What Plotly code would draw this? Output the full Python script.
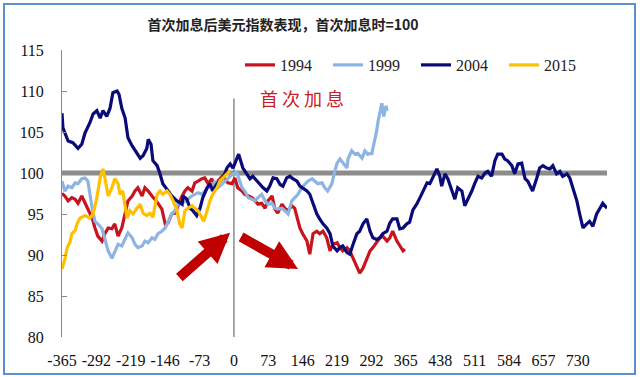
import plotly.graph_objects as go

# ---------------- data ----------------
x_ticks = [-365, -292, -219, -146, -73, 0, 73, 146, 219, 292, 365, 438, 511, 584, 657, 730]

days_1994 = [-365, -359, -352, -344, -337, -331, -323, -316, -310, -301, -295, -289, -280, -274, -267, -259,
             -253, -246, -238, -231, -225, -216, -210, -204, -195, -189, -182, -174, -168, -161, -153, -146,
             -140, -132, -125, -119, -110, -104, -98, -89, -83, -76, -68, -62, -55, -47, -40, -34, -25, -19,
             -13, -4, 2, 8, 17, 23, 30, 38, 45, 51, 59, 66, 72, 81, 87, 93, 102, 108, 115, 123, 129, 134,
             140, 146, 155, 161, 168, 176, 182, 189, 197, 204, 210, 219, 225, 231, 240, 246, 253, 261, 267,
             274, 282, 289, 295, 303, 310, 316, 325, 331, 337, 346, 352, 359, 363]
vals_1994 = [97.5, 97.2, 96.6, 97.0, 96.8, 96.3, 97.2, 96.3, 95.6, 94.5, 93.3, 92.3, 91.7, 92.6, 93.3, 93.2,
             93.8, 92.3, 93.3, 95.1, 96.6, 97.2, 97.8, 98.2, 97.2, 98.2, 97.8, 97.2, 96.8, 96.3, 95.6, 93.8,
             93.9, 95.0, 95.1, 96.0, 97.2, 97.8, 98.2, 97.8, 98.8, 99.0, 99.3, 99.4, 98.7, 99.3, 98.2, 99.0,
             99.6, 99.3, 98.8, 98.7, 99.4, 98.2, 97.8, 97.4, 97.2, 97.0, 96.6, 96.2, 96.3, 95.7, 96.6, 97.2,
             95.6, 95.1, 96.2, 95.7, 95.4, 96.0, 95.7, 94.5, 93.3, 92.6, 91.7, 90.1, 92.6, 92.9, 92.6, 92.9,
             92.1, 90.5, 91.3, 91.5, 90.9, 90.5, 90.9, 90.5, 89.6, 88.4, 87.8, 88.4, 89.6, 90.5, 90.9, 91.5,
             92.1, 92.3, 91.7, 92.1, 92.9, 91.7, 91.1, 90.5, 90.7]

days_1999 = [-365, -359, -352, -344, -337, -331, -323, -316, -310, -306, -301, -295, -289, -280, -274, -267,
             -259, -253, -246, -238, -231, -225, -216, -210, -204, -195, -189, -182, -174, -168, -161, -153,
             -146, -140, -132, -125, -119, -110, -104, -98, -89, -83, -76, -68, -62, -55, -47, -40, -34, -25,
             -19, -13, -4, 6, 17, 23, 30, 38, 45, 51, 59, 66, 72, 81, 87, 93, 102, 108, 115, 123, 129, 136,
             144, 151, 157, 166, 172, 178, 187, 193, 199, 208, 214, 219, 225, 231, 240, 242, 250, 257, 263,
             272, 278, 284, 293, 295, 299, 303, 306, 310, 314, 318, 323, 325]
vals_1999 = [99.0, 97.8, 98.4, 98.2, 98.8, 98.7, 99.3, 99.4, 99.0, 97.4, 95.7, 94.1, 93.8, 93.2, 92.1, 90.5,
             89.6, 90.5, 91.3, 91.1, 92.1, 92.7, 92.1, 91.3, 90.9, 91.1, 91.7, 91.5, 92.1, 91.9, 92.6, 92.9,
             93.3, 94.1, 95.0, 95.4, 96.2, 96.3, 96.6, 96.8, 97.2, 97.4, 97.6, 97.4, 97.8, 98.2, 98.4, 99.0,
             98.2, 98.7, 99.0, 99.4, 99.8, 100.1, 98.2, 97.8, 97.0, 96.8, 96.6, 97.0, 97.4, 96.6, 96.2, 96.3,
             95.7, 95.6, 95.7, 95.4, 95.0, 96.6, 97.0, 97.4, 98.2, 98.7, 99.0, 99.3, 99.0, 98.7, 98.8, 98.2,
             97.8, 98.7, 100.2, 101.2, 101.7, 101.2, 100.6, 101.7, 102.7, 102.3, 102.4, 101.8, 102.7, 102.3,
             102.4, 103.0, 103.9, 105.1, 106.3, 107.6, 108.5, 106.9, 108.2, 107.6]

days_2004 = [-365, -363, -352, -342, -331, -323, -316, -306, -299, -291, -284, -278, -270, -263, -257, -248,
             -244, -238, -231, -225, -216, -206, -199, -193, -185, -182, -176, -172, -163, -157, -151, -142,
             -132, -121, -110, -108, -100, -93, -87, -79, -72, -66, -57, -51, -45, -36, -30, -23, -15, -8,
             -2, 6, 10, 19, 28, 34, 40, 49, 55, 62, 70, 76, 83, 91, 98, 104, 112, 119, 125, 134, 140, 146,
             155, 161, 168, 176, 182, 189, 197, 204, 210, 219, 225, 231, 240, 246, 253, 261, 267, 274, 282,
             289, 295, 303, 310, 316, 325, 331, 337, 346, 352, 359, 367, 373, 380, 388, 395, 401, 410, 416,
             422, 431, 437, 441, 448, 454, 463, 469, 475, 484, 490, 497, 505, 511, 518, 526, 533, 539, 547,
             554, 560, 569, 575, 581, 590, 596, 603, 611, 618, 624, 634, 643, 649, 656, 664, 671, 677, 685,
             692, 698, 707, 713, 719, 728, 734, 741, 749, 755, 762, 770, 777, 783, 792]
vals_2004 = [107.3, 105.5, 103.9, 103.7, 103.0, 103.5, 104.9, 106.1, 107.2, 107.6, 106.7, 107.6, 106.9, 107.9,
             109.8, 110.0, 109.6, 107.9, 106.7, 104.3, 103.3, 102.4, 101.8, 102.1, 103.0, 104.1, 103.5, 101.5,
             100.9, 99.9, 98.7, 98.0, 97.2, 96.6, 96.2, 97.2, 96.8, 95.7, 95.4, 94.8, 95.7, 97.0, 98.2, 98.7,
             97.8, 98.7, 99.0, 99.4, 100.6, 101.1, 100.6, 101.8, 102.3, 100.6, 99.9, 99.3, 99.6, 99.0, 98.6,
             98.2, 97.8, 98.4, 99.4, 99.3, 98.6, 98.4, 99.4, 99.6, 99.3, 99.0, 98.4, 98.2, 97.8, 97.4, 96.2,
             95.0, 94.4, 93.8, 93.3, 92.6, 91.1, 90.5, 90.9, 91.1, 90.3, 90.1, 91.3, 92.6, 92.9, 93.8, 94.4,
             92.9, 92.1, 91.9, 92.1, 92.6, 92.9, 93.9, 94.4, 94.4, 93.2, 93.3, 93.8, 94.0, 95.5, 96.2, 97.0,
             97.8, 98.8, 98.7, 99.4, 100.5, 99.6, 98.4, 99.9, 99.3, 97.8, 96.8, 98.2, 97.8, 96.0, 96.8, 97.8,
             98.7, 99.6, 99.4, 100.0, 100.2, 99.6, 101.5, 102.3, 102.3, 101.7, 101.5, 100.9, 99.9, 101.1,
             101.2, 99.3, 99.0, 97.8, 99.4, 100.6, 100.9, 100.6, 100.5, 100.9, 99.9, 100.2, 99.6, 99.9, 99.4,
             98.2, 96.6, 95.0, 93.3, 93.8, 94.1, 93.5, 95.0, 95.7, 96.3, 95.7]

days_2015 = [-365, -359, -354, -348, -344, -337, -333, -327, -316, -306, -299, -291, -284, -278, -274, -270,
             -267, -259, -253, -246, -242, -236, -231, -227, -221, -214, -206, -199, -193, -185, -178, -172,
             -163, -157, -151, -142, -136, -129, -121, -115, -110, -104, -98, -89, -83, -76, -68, -64, -57,
             -51, -45, -36, -30, -23, -15, -8]
vals_2015 = [88.3, 89.5, 90.9, 91.6, 92.6, 93.0, 93.8, 94.5, 94.8, 94.5, 95.0, 97.0, 99.4, 100.5, 99.4, 98.2,
             97.2, 98.2, 99.3, 98.7, 97.4, 97.8, 96.2, 94.5, 95.4, 95.0, 95.7, 96.2, 95.1, 94.8, 95.1, 94.6,
             97.4, 97.8, 97.4, 97.8, 97.4, 96.6, 95.4, 93.8, 93.3, 95.4, 95.7, 96.0, 95.7, 95.4, 94.5, 94.1,
             95.4, 96.6, 97.4, 98.2, 99.0, 99.4, 99.9, 100.3]

series = [
    ("1994", days_1994, vals_1994, "#c8141e"),
    ("1999", days_1999, vals_1999, "#8db4e2"),
    ("2004", days_2004, vals_2004, "#0a0a78"),
    ("2015", days_2015, vals_2015, "#ffc000"),
]

# ---------------- layout constants ----------------
W, H = 640, 377
ML, MR, MT, MB = 62, 33, 50, 40
X_RANGE = [-365, 792]
Y_RANGE = [80, 115]
SERIF = "Liberation Serif, Times New Roman, serif"
CJK = "Noto Sans CJK SC, sans-serif"

fig = go.Figure()
for name, xs, ys, col in series:
    fig.add_trace(go.Scatter(x=xs, y=ys, mode="lines", name=name,
                             line=dict(color=col, width=3.2)))

pw, ph = W - ML - MR, H - MT - MB
fig.update_layout(
    width=W, height=H,
    margin=dict(l=ML, r=MR, t=MT, b=MB, autoexpand=False),
    paper_bgcolor="white", plot_bgcolor="white",
    title=dict(text="<b>首次加息后美元指数表现，首次加息时=100</b>",
               font=dict(family=CJK, size=14, color="#222"),
               x=283 / W, xanchor="center", xref="container",
               y=1 - 25 / H, yanchor="middle", yref="container"),
    showlegend=True,
    legend=dict(orientation="h", x=(240 - ML) / pw, xanchor="left",
                y=(H - MB - 65) / ph, yanchor="middle",
                font=dict(family=SERIF, size=16, color="#222"),
                bgcolor="rgba(0,0,0,0)", entrywidth=43, entrywidthmode="pixels",
                tracegroupgap=0),
    xaxis=dict(range=X_RANGE, tickvals=x_ticks, ticktext=[str(v) for v in x_ticks],
               showgrid=False, zeroline=False, showline=False, ticks="",
               tickangle=0,
               tickfont=dict(family=SERIF, size=16, color="#111"),
               ticklabelstandoff=12),
    yaxis=dict(range=Y_RANGE, dtick=5, showgrid=False, zeroline=False,
               showline=True, linecolor="#8a8a8a", linewidth=1,
               ticks="inside", ticklen=5, tickcolor="#8a8a8a",
               tickfont=dict(family=SERIF, size=16, color="#111"),
               ticklabelstandoff=14),
)

# reference line at 100 (below series)
fig.add_shape(type="line", xref="paper", yref="y", x0=0, x1=1, y0=100, y1=100,
              line=dict(color="#8c8c8c", width=5), layer="below")
# vertical line at first hike
fig.add_shape(type="line", xref="x", yref="y", x0=0, x1=0, y0=80, y1=109.1,
              line=dict(color="#8a8a8a", width=1.5), layer="below")
# outer frame
fig.add_shape(type="rect", xref="paper", yref="paper",
              x0=(4 - ML) / pw, x1=(635 - ML) / pw,
              y0=(H - MB - 374) / ph, y1=(H - MB - 4) / ph,
              line=dict(color="#5b8fd0", width=2), fillcolor="rgba(0,0,0,0)", layer="below")

fig.add_annotation(x=144, y=109.1, xref="x", yref="y", text="首 次 加 息", showarrow=False,
                   font=dict(family=CJK, size=18, color="#c8202a"))

arrow_col = "#c00000"
fig.add_annotation(x=-8, y=92.7, ax=-119, ay=87.1, xref="x", yref="y", axref="x", ayref="y",
                   text="", showarrow=True, arrowhead=2, arrowwidth=10, arrowsize=0.6,
                   arrowcolor=arrow_col)
fig.add_annotation(x=136, y=88.3, ax=12, ay=92.3, xref="x", yref="y", axref="x", ayref="y",
                   text="", showarrow=True, arrowhead=2, arrowwidth=10, arrowsize=0.6,
                   arrowcolor=arrow_col)

fig.write_html("out.html", config={"displayModeBar": False},
               post_script="document.body.style.margin='0px';")
